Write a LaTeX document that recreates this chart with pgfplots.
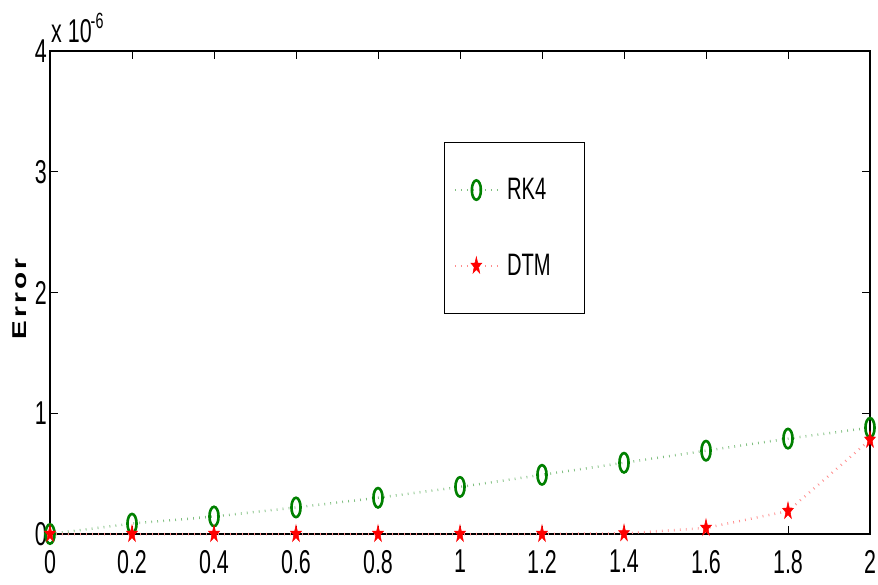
\documentclass[border=0pt]{standalone}
\usepackage{fontspec}
\setmainfont{Liberation Sans}[FakeStretch=0.65]
\newfontfamily\labfont{Liberation Sans}[FakeStretch=1.4, LetterSpace=15]
\usepackage{pgfplots}
\pgfplotsset{compat=1.18}
\usetikzlibrary{plotmarks}
\definecolor{mgreen}{rgb}{0,0.5,0}
\pgfdeclareplotmark{fstar}{%
  \pgfpathmoveto{\pgfpointpolar{90}{\pgfplotmarksize}}%
  \pgfpathlineto{\pgfpointpolar{126}{0.4\pgfplotmarksize}}%
  \pgfpathlineto{\pgfpointpolar{162}{\pgfplotmarksize}}%
  \pgfpathlineto{\pgfpointpolar{198}{0.4\pgfplotmarksize}}%
  \pgfpathlineto{\pgfpointpolar{234}{\pgfplotmarksize}}%
  \pgfpathlineto{\pgfpointpolar{270}{0.4\pgfplotmarksize}}%
  \pgfpathlineto{\pgfpointpolar{306}{\pgfplotmarksize}}%
  \pgfpathlineto{\pgfpointpolar{342}{0.4\pgfplotmarksize}}%
  \pgfpathlineto{\pgfpointpolar{18}{\pgfplotmarksize}}%
  \pgfpathlineto{\pgfpointpolar{54}{0.4\pgfplotmarksize}}%
  \pgfpathclose\pgfusepathqfillstroke}
\begin{document}
\begin{tikzpicture}
\begin{axis}[
  scale only axis, width=820pt, height=483pt,
  xmin=0, xmax=2, ymin=0, ymax=4,
  xtick={0,0.2,0.4,0.6,0.8,1,1.2,1.4,1.6,1.8,2},
  xticklabels={0,0.2,0.4,0.6,0.8,1,1.2,1.4,1.6,1.8,2},
  ytick={0,1,2,3,4},
  yticklabels={0,1,2,3,4},
  tick align=inside, major tick length=8pt,
  axis line style={line width=1.3pt},
  every tick/.style={black, line width=0.8pt},
  font=\fontsize{33}{35}\selectfont,
  /pgf/number format/assume math mode=true,
  clip=false,
  xticklabel style={inner sep=0pt, anchor=north, yshift=-16pt},
  yticklabel style={inner sep=0pt, anchor=east, xshift=-3pt},
  ylabel={\labfont\bfseries Error},
  ylabel style={at={(axis description cs:-0.037,0.487)}, anchor=center, font=\fontsize{20}{22}\selectfont},
  legend style={at={(axis cs:0.961,3.246)}, anchor=north west, draw=black, line width=1.2pt,
    inner xsep=9pt, inner ysep=36pt, row sep=53pt, column sep=8pt,
    nodes={inner sep=0pt}, font=\fontsize{31}{33}\selectfont},
  legend cell align=left,
  legend image code/.code={\draw[mark repeat=2,mark phase=2] plot coordinates {(0pt,0pt) (21.5pt,0pt) (43pt,0pt)};},
]
\addplot[color=mgreen!50!white, line width=2.5pt, dash pattern=on 0.8pt off 5.2pt,
  mark=o, mark size=9.7pt, mark options={solid, draw=mgreen, line width=2.6pt, xscale=0.47}]
  coordinates {(0,0) (0.2,0.086) (0.4,0.145) (0.6,0.22) (0.8,0.30) (1.0,0.39) (1.2,0.49) (1.4,0.59) (1.6,0.69) (1.8,0.79) (2.0,0.88)};
\addlegendentry{\makebox[68pt][l]{RK4}}
\addplot[color=red!45!white, line width=2.5pt, dash pattern=on 0.8pt off 5.2pt,
  mark=fstar, mark size=9pt, mark options={solid, draw=red, fill=red, line width=0.5pt, xscale=0.64}]
  coordinates {(0,0) (0.2,0) (0.4,0) (0.6,0) (0.8,0) (1.0,0) (1.2,0) (1.4,0.005) (1.6,0.05) (1.8,0.19) (2.0,0.78)};
\addlegendentry{\makebox[68pt][l]{DTM}}
\node[anchor=base west, inner sep=0pt, font=\fontsize{33}{35}\selectfont] at (rel axis cs:0,1) [yshift=9pt, xshift=1pt] {x 10\kern-1pt\raisebox{14pt}{\fontsize{22}{23}\selectfont -6}};
\end{axis}
\pgfresetboundingbox
\path[use as bounding box] (-50pt,-50pt) rectangle (828pt,534pt);
\end{tikzpicture}
\end{document}
